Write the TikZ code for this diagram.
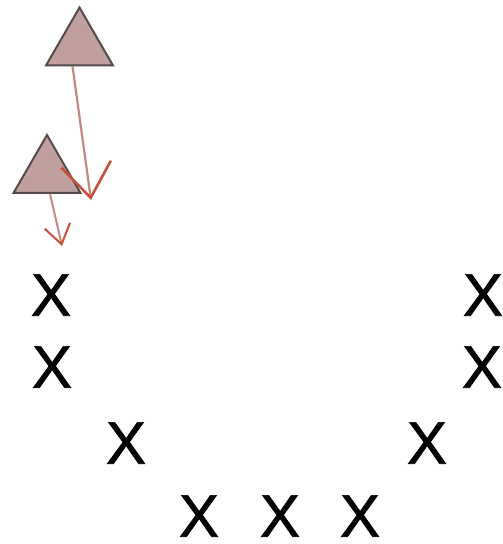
\documentclass[tikz,border=0pt]{standalone}
\usepackage{fontspec}
\setmainfont{Liberation Sans}
\newfontfamily\markfont[FakeBold=1.2]{Liberation Sans}
\usepackage{tikz}
\usetikzlibrary{shapes.geometric,arrows.meta,positioning,calc}
\usepackage{xcolor}
\definecolor{trifill}{RGB}{191,160,158}
\definecolor{triline}{RGB}{85,75,75}
\definecolor{shaftred}{RGB}{196,136,128}
\definecolor{tipred}{RGB}{200,80,60}

\begin{document}
\begin{tikzpicture}[x=1pt, y=-1pt,
    tri/.style={regular polygon, regular polygon sides=3, draw=triline, fill=trifill,
        line width=2pt, inner sep=0pt, minimum size=77pt},
    pt/.style={font=\markfont\fontsize{60}{60}\selectfont, inner sep=0pt, text=black},
    big/.style={-{Straight Barb[length=34pt, width=50pt, line width=2.6pt, color=tipred]}, draw=shaftred, line width=2.2pt},
    small/.style={-{Straight Barb[length=19pt, width=26pt, line width=2pt, color=tipred]}, draw=shaftred, line width=2pt}
]
\useasboundingbox (0,0) rectangle (503,544);
\fill[white] (0,0) rectangle (503,544);

% the two triangles
\node[tri] (upper) at (79.5,46) {};
\node[tri] (lower) at (47,173.5) {};
\coordinate (uppertip) at (91,200);
\coordinate (lowertip) at (62,246);
\draw[big] ([xshift=-7pt]upper.south) -- (uppertip);
\draw[small] ([xshift=3pt]lower.south) -- (lowertip);

% the points
\node[pt] (p1) at (51,295) {X};
\node[pt] (p2) at (52,367) {X};
\node[pt] (p3) at (126,443) {X};
\node[pt] (p4) at (199,516) {X};
\node[pt] (p5) at (280,516) {X};
\node[pt] (p6) at (360,516) {X};
\node[pt] (p7) at (427,443) {X};
\node[pt] (p8) at (482,367) {X};
\node[pt] (p9) at (483,295) {X};
\end{tikzpicture}
\end{document}
